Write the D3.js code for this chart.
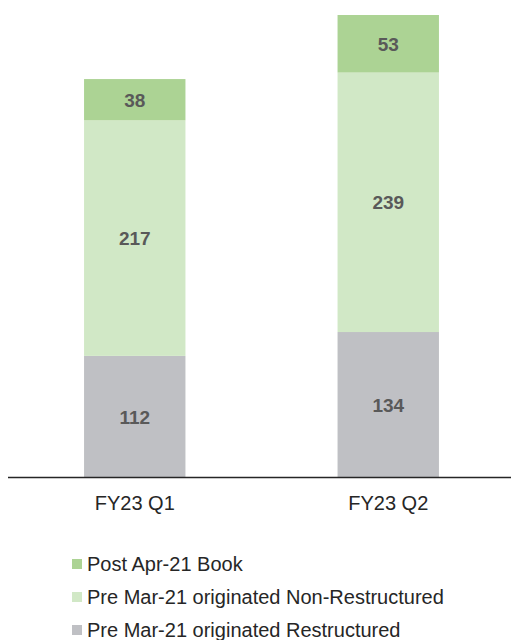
<!DOCTYPE html>
<html>
<head>
<meta charset="UTF-8">
<script src="https://d3js.org/d3.v7.min.js"></script>
<style>
  body { margin: 0; background: #fff; }
  svg { display: block; font-family: "Liberation Sans", Arial, sans-serif; }
</style>
</head>
<body>
<svg width="511" height="640"></svg>
<script>
const categories = ['FY23 Q1', 'FY23 Q2'];
const seriesNames = ['Pre Mar-21 originated Restructured', 'Pre Mar-21 originated Non-Restructured', 'Post Apr-21 Book'];
const restructured = [112, 134];
const nonRestructured = [217, 239];
const postBook = [38, 53];
const colors = ['#bfc0c4', '#d1e8c6', '#acd394'];

const rows = categories.map((c, i) => ({
  cat: c,
  [seriesNames[0]]: restructured[i],
  [seriesNames[1]]: nonRestructured[i],
  [seriesNames[2]]: postBook[i]
}));

const svg = d3.select('svg');
const baseY = 477.5;

const x = d3.scaleBand().domain(categories).range([8, 515])
  .paddingInner(0.6).paddingOuter(0.3);
const y = d3.scaleLinear().domain([0, 426]).range([baseY, 15]);

const stack = d3.stack().keys(seriesNames)(rows);

const layer = svg.selectAll('g.layer').data(stack).enter().append('g')
  .attr('fill', (d, i) => colors[i]);

layer.selectAll('rect').data(d => d).enter().append('rect')
  .attr('x', d => x(d.data.cat))
  .attr('width', x.bandwidth())
  .attr('y', d => y(d[1]))
  .attr('height', d => y(d[0]) - y(d[1]));

layer.selectAll('text').data(d => d).enter().append('text')
  .attr('x', d => x(d.data.cat) + x.bandwidth() / 2)
  .attr('y', d => (y(d[0]) + y(d[1])) / 2)
  .attr('dy', '0.36em')
  .attr('text-anchor', 'middle')
  .attr('font-size', 19)
  .attr('font-weight', 'bold')
  .attr('fill', '#595959')
  .text(d => d[1] - d[0]);

// axis line
svg.append('line')
  .attr('x1', 8).attr('x2', 511)
  .attr('y1', baseY).attr('y2', baseY)
  .attr('stroke', '#262626').attr('stroke-width', 1.3);

// category labels
svg.selectAll('text.cat').data(categories).enter().append('text')
  .attr('class', 'cat')
  .attr('x', d => x(d) + x.bandwidth() / 2)
  .attr('y', 503)
  .attr('dy', '0.36em')
  .attr('text-anchor', 'middle')
  .attr('font-size', 20)
  .attr('fill', '#262626')
  .text(d => d);

// legend (top series first)
const legendItems = seriesNames.map((n, i) => ({ name: n, color: colors[i] })).reverse();
const leg = svg.selectAll('g.leg').data(legendItems).enter().append('g')
  .attr('transform', (d, i) => `translate(72, ${564 + i * 33})`);
leg.append('rect')
  .attr('x', 0).attr('y', -5).attr('width', 10).attr('height', 10)
  .attr('fill', d => d.color);
leg.append('text')
  .attr('x', 15).attr('y', 0).attr('dy', '0.36em')
  .attr('font-size', 20)
  .attr('fill', '#262626')
  .text(d => d.name);
</script>
</body>
</html>
